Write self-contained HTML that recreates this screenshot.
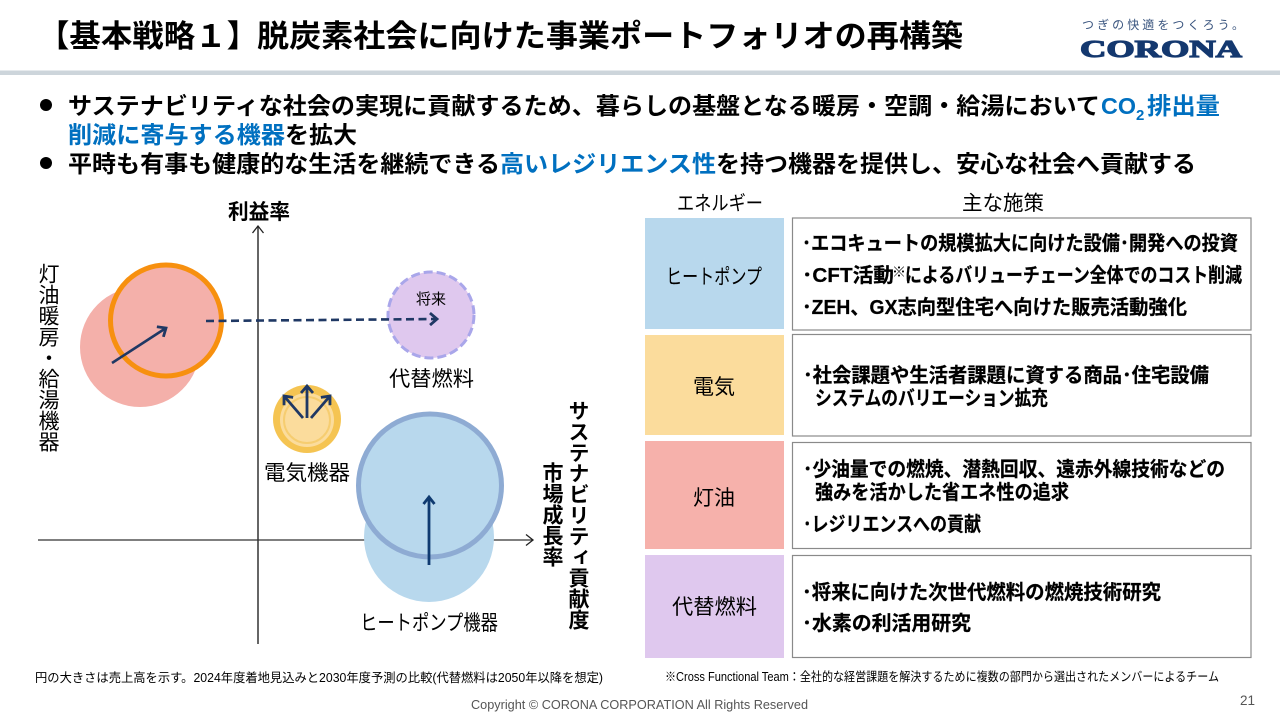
<!DOCTYPE html>
<html lang="ja"><head><meta charset="utf-8"><title>基本戦略1</title>
<style>
html,body{margin:0;padding:0;background:#fff}
#p{position:relative;width:1280px;height:720px;overflow:hidden;background:#fff}
svg{position:absolute;left:0;top:0}
text{font-family:"Liberation Sans","Noto Sans CJK JP",sans-serif;fill:#000}
.b{font-weight:700}
.blue{fill:#0070c0}
.t{font-size:20px;font-weight:700;stroke:#000;stroke-width:.25}
.c{text-anchor:middle}
.v{position:absolute;writing-mode:vertical-rl;font-family:"Liberation Sans","Noto Sans CJK JP",sans-serif;font-size:21px;line-height:24px;white-space:nowrap;color:#000}
</style></head><body><div id="p">
<svg width="1280" height="720" viewBox="0 0 1280 720">
<defs>
<marker id="m1" markerUnits="userSpaceOnUse" markerWidth="14" markerHeight="14" refX="11" refY="7" orient="auto"><path d="M4 1L11 7L4 13" fill="none" stroke="#1f3864" stroke-width="2.8"/></marker>
<marker id="m2" markerUnits="userSpaceOnUse" markerWidth="14" markerHeight="14" refX="11" refY="7" orient="auto"><path d="M4 1.5L11 7L4 12.5" fill="none" stroke="#0f3a70" stroke-width="2.8"/></marker>
<marker id="m3" markerUnits="userSpaceOnUse" markerWidth="14" markerHeight="14" refX="11" refY="7" orient="auto"><path d="M4 1.5L11 7L4 12.5" fill="none" stroke="#222" stroke-width="1.3"/></marker>
</defs>

<text class="b" x="38" y="47" font-size="31" textLength="220" lengthAdjust="spacingAndGlyphs">【基本戦略１】</text>
<text class="b" x="257" y="47" font-size="31" textLength="706" lengthAdjust="spacingAndGlyphs">脱炭素社会に向けた事業ポートフォリオの再構築</text>
<text x="1082" y="29" font-size="12" style="fill:#3a557f" textLength="162">つぎの快適をつくろう。</text>
<text x="1080" y="57" font-size="24" textLength="162" lengthAdjust="spacingAndGlyphs" style="font-family:'Liberation Serif',serif;font-weight:700;fill:#14386f;stroke:#14386f;stroke-width:1.2">CORONA</text>
<rect x="0" y="70.5" width="1280" height="4.5" fill="#cdd5db"/>

<circle cx="46" cy="105" r="6" fill="#000"/>
<text class="b" x="68" y="114" font-size="23.5" textLength="1032" lengthAdjust="spacingAndGlyphs">サステナビリティな社会の実現に貢献するため、暮らしの基盤となる暖房・空調・給湯において</text>
<text class="b blue" x="1101" y="114" font-size="23.5" textLength="35" lengthAdjust="spacingAndGlyphs">CO</text>
<text class="b blue" x="1136" y="120" font-size="15">2</text>
<text class="b blue" x="1147" y="114" font-size="23.5" textLength="73" lengthAdjust="spacingAndGlyphs">排出量</text>
<text class="b blue" x="68" y="143" font-size="23.5" textLength="217" lengthAdjust="spacingAndGlyphs">削減に寄与する機器</text>
<text class="b" x="285" y="143" font-size="23.5" textLength="72" lengthAdjust="spacingAndGlyphs">を拡大</text>
<circle cx="46" cy="163" r="6" fill="#000"/>
<text class="b" x="68" y="172" font-size="23.5" textLength="432" lengthAdjust="spacingAndGlyphs">平時も有事も健康的な生活を継続できる</text>
<text class="b blue" x="500" y="172" font-size="23.5" textLength="216" lengthAdjust="spacingAndGlyphs">高いレジリエンス性</text>
<text class="b" x="716" y="172" font-size="23.5" textLength="480" lengthAdjust="spacingAndGlyphs">を持つ機器を提供し、安心な社会へ貢献する</text>

<!-- axes -->
<line x1="258" y1="644" x2="258" y2="226" stroke="#333" stroke-width="1.5" marker-end="url(#m3)"/>
<line x1="38" y1="540" x2="533" y2="540" stroke="#333" stroke-width="1.3" marker-end="url(#m3)"/>
<text class="b" x="228" y="219" font-size="21" textLength="62" lengthAdjust="spacingAndGlyphs">利益率</text>

<!-- kerosene -->
<circle cx="140" cy="347" r="60" fill="#f4b0aa"/>
<circle cx="166" cy="320.5" r="55.5" fill="#f4b0aa" stroke="#f7900f" stroke-width="5"/>
<line x1="112" y1="363" x2="166" y2="328" stroke="#1f3864" stroke-width="2.6" marker-end="url(#m1)"/>

<!-- alt fuel -->
<circle cx="431" cy="315" r="43" fill="#dfc8ee" stroke="#a9a6ea" stroke-width="3" stroke-dasharray="9 4"/>
<line x1="206" y1="321" x2="437" y2="319" stroke="#1f3864" stroke-width="2.6" stroke-dasharray="8 4.5" marker-end="url(#m1)"/>
<text class="c" x="431" y="304" font-size="15">将来</text>
<text x="389" y="386" font-size="21" textLength="85" lengthAdjust="spacingAndGlyphs">代替燃料</text>

<!-- electric -->
<circle cx="307" cy="419" r="34" fill="#f5c452"/>
<circle cx="307" cy="420" r="27" fill="#fbdc9c"/>
<circle cx="307" cy="420" r="23" fill="#fbdc9c" stroke="#f6cd70" stroke-width="2"/>
<g stroke="#1f3864" stroke-width="2.8" marker-end="url(#m1)"><line x1="303" y1="418" x2="284" y2="396"/><line x1="307" y1="418" x2="307" y2="386"/><line x1="311" y1="418" x2="330" y2="396"/></g>
<text x="264" y="480" font-size="21" textLength="86" lengthAdjust="spacingAndGlyphs">電気機器</text>

<!-- heat pump -->
<circle cx="429" cy="537" r="65" fill="#b8d8ed"/>
<circle cx="430" cy="485.5" r="71.5" fill="#b8d8ed" stroke="#8eabd3" stroke-width="5"/>
<line x1="429" y1="565" x2="429" y2="497" stroke="#0f3a70" stroke-width="2.8" marker-end="url(#m2)"/>
<text x="360" y="630" font-size="21" textLength="138" lengthAdjust="spacingAndGlyphs">ヒートポンプ機器</text>

<!-- table -->
<text x="677" y="210" font-size="20" textLength="86" lengthAdjust="spacingAndGlyphs">エネルギー</text>
<text x="962" y="210" font-size="20.5" textLength="82" lengthAdjust="spacingAndGlyphs">主な施策</text>
<rect x="645" y="218" width="139" height="111" fill="#b8d8ed"/>
<rect x="645" y="335" width="139" height="100" fill="#fbdc9c"/>
<rect x="645" y="441" width="139" height="108" fill="#f6b1ab"/>
<rect x="645" y="555" width="139" height="103" fill="#dfc8ee"/>
<g fill="#fff" stroke="#8a8a8a" stroke-width="1.2">
<rect x="792.5" y="218" width="458.5" height="112"/>
<rect x="792.5" y="334.5" width="458.5" height="101.5"/>
<rect x="792.5" y="442.5" width="458.5" height="106"/>
<rect x="792.5" y="555.5" width="458.5" height="102"/>
</g>
<text x="666" y="284" font-size="21" textLength="96" lengthAdjust="spacingAndGlyphs">ヒートポンプ</text>
<text x="693" y="394" font-size="21" textLength="42" lengthAdjust="spacingAndGlyphs">電気</text>
<text x="693" y="505" font-size="21" textLength="42" lengthAdjust="spacingAndGlyphs">灯油</text>
<text x="672" y="614" font-size="21" textLength="85" lengthAdjust="spacingAndGlyphs">代替燃料</text>

<text class="t" x="802" y="250" textLength="436" lengthAdjust="spacingAndGlyphs">･エコキュートの規模拡大に向けた設備･開発への投資</text>
<text class="t" x="802" y="282" textLength="92" lengthAdjust="spacingAndGlyphs">･CFT活動</text>
<text x="892" y="277" font-size="14" textLength="13" style="font-weight:400">※</text>
<text class="t" x="905" y="282" textLength="337" lengthAdjust="spacingAndGlyphs">によるバリューチェーン全体でのコスト削減</text>
<text class="t" x="802" y="314" textLength="385" lengthAdjust="spacingAndGlyphs">･ZEH、GX志向型住宅へ向けた販売活動強化</text>
<text class="t" x="803" y="382" textLength="406" lengthAdjust="spacingAndGlyphs">･社会課題や生活者課題に資する商品･住宅設備</text>
<text class="t" x="815" y="405" textLength="233" lengthAdjust="spacingAndGlyphs">システムのバリエーション拡充</text>
<text class="t" x="803" y="476" textLength="422" lengthAdjust="spacingAndGlyphs">･少油量での燃焼、潜熱回収、遠赤外線技術などの</text>
<text class="t" x="815" y="499" textLength="254" lengthAdjust="spacingAndGlyphs">強みを活かした省エネ性の追求</text>
<text class="t" x="803" y="531" textLength="178" lengthAdjust="spacingAndGlyphs">･レジリエンスへの貢献</text>
<text class="t" x="802" y="599" textLength="359" lengthAdjust="spacingAndGlyphs">･将来に向けた次世代燃料の燃焼技術研究</text>
<text class="t" x="802" y="630" textLength="169" lengthAdjust="spacingAndGlyphs">･水素の利活用研究</text>

<!-- footer -->
<text x="35" y="682" font-size="12.5" textLength="568" lengthAdjust="spacingAndGlyphs">円の大きさは売上高を示す。2024年度着地見込みと2030年度予測の比較(代替燃料は2050年以降を想定)</text>
<text x="665" y="681" font-size="12.5" textLength="554" lengthAdjust="spacingAndGlyphs">※Cross Functional Team：全社的な経営課題を解決するために複数の部門から選出されたメンバーによるチーム</text>
<text x="471" y="709" font-size="12.5" textLength="337" lengthAdjust="spacingAndGlyphs" style="fill:#555">Copyright © CORONA CORPORATION All Rights Reserved</text>
<text x="1240" y="705" font-size="13.5" style="fill:#555">21</text>
</svg>
<div class="v" style="left:35px;top:263px;">灯油暖房・給湯機器</div>
<div class="v" style="left:539px;top:462px;font-weight:700;">市場成長率</div>
<div class="v" style="left:565px;top:400px;font-weight:700;letter-spacing:-.1px">サステナビリティ貢献度</div>
</div></body></html>
